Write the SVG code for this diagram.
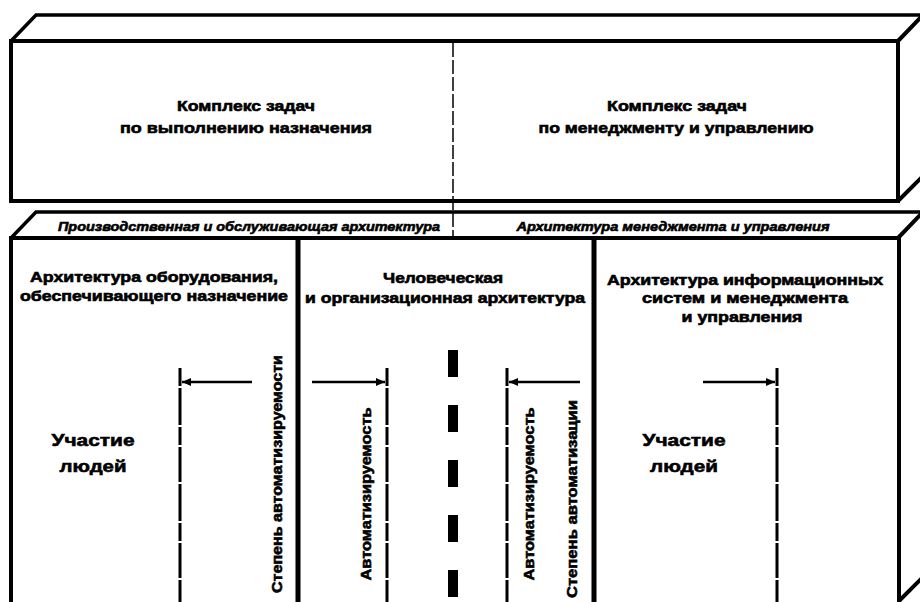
<svg xmlns="http://www.w3.org/2000/svg" width="920" height="602" viewBox="0 0 920 602">
<defs>
<style>
.t{font-family:"Liberation Sans",Arial,sans-serif;font-weight:bold;fill:#000;stroke:#000;stroke-width:0.6;}
.c{text-anchor:middle;}
.it{font-style:italic;}
.thick{fill:none;stroke:#000;stroke-width:4;stroke-linejoin:miter;}
.med{fill:none;stroke:#000;stroke-width:3.5;}
.div{fill:none;stroke:#000;stroke-width:5;}
.dash{fill:none;stroke:#000;stroke-width:1.5;stroke-dasharray:14 3;}
.dim{fill:none;stroke:#000;stroke-width:3;stroke-dasharray:37 2 18 2 35 2;stroke-dashoffset:76;}
.big{fill:none;stroke:#000;stroke-width:10;stroke-dasharray:27 28;}
.arr{fill:none;stroke:#000;stroke-width:2.5;marker-end:url(#ah);}
</style>
<marker id="ah" markerUnits="userSpaceOnUse" markerWidth="10" markerHeight="8" refX="9" refY="4" orient="auto">
<path d="M0,0 L9,4 L0,8 z" fill="#000"/>
</marker>
</defs>
<rect width="920" height="602" fill="#fff"/>

<g id="top-block">
<path class="med" d="M11,41 L36,15 L922,15"/>
<path class="thick" d="M898,41 L922,16"/>
<path class="thick" d="M898,201 L922,177"/>
<rect class="thick" x="11" y="41" width="887" height="160"/>
<path class="dash" d="M453,43 V238"/>
</g>

<g id="task-mission">
<text class="t c" x="246" y="111" font-size="15" textLength="138" lengthAdjust="spacingAndGlyphs">Комплекс задач</text>
<text class="t c" x="246" y="133" font-size="15" textLength="252" lengthAdjust="spacingAndGlyphs">по выполнению назначения</text>
</g>

<g id="task-mgmt">
<text class="t c" x="677" y="111" font-size="15" textLength="140" lengthAdjust="spacingAndGlyphs">Комплекс задач</text>
<text class="t c" x="676" y="133" font-size="15" textLength="275" lengthAdjust="spacingAndGlyphs">по менеджменту и управлению</text>
</g>

<g id="band">
<path class="med" d="M11,238 L36,212 L922,212"/>
<path class="thick" d="M898,238 L922,213"/>
<text class="t c it" x="249" y="231" font-size="13" textLength="382" lengthAdjust="spacingAndGlyphs">Производственная и обслуживающая архитектура</text>
<text class="t c it" x="673" y="231" font-size="13" textLength="313" lengthAdjust="spacingAndGlyphs">Архитектура менеджмента и управления</text>
</g>

<g id="lower-block">
<path class="thick" d="M11,604 V238 H899 V604"/>
<path class="thick" d="M899,601 L922,578"/>
<path class="div" d="M298,238 V604"/>
<path class="div" d="M594,238 V604"/>
</g>

<g id="equipment-arch">
<text class="t c" x="154" y="282" font-size="14" textLength="248" lengthAdjust="spacingAndGlyphs">Архитектура оборудования,</text>
<text class="t c" x="154" y="301" font-size="14" textLength="268" lengthAdjust="spacingAndGlyphs">обеспечивающего назначение</text>
<text class="t c" x="93" y="446" font-size="17" textLength="83" lengthAdjust="spacingAndGlyphs">Участие</text>
<text class="t c" x="93" y="472" font-size="17" textLength="67" lengthAdjust="spacingAndGlyphs">людей</text>
<text class="t c" transform="translate(282,474) rotate(-90)" font-size="15" textLength="238" lengthAdjust="spacingAndGlyphs">Степень автоматизируемости</text>
</g>

<g id="human-org-arch">
<text class="t c" x="443" y="283" font-size="14" textLength="120" lengthAdjust="spacingAndGlyphs">Человеческая</text>
<text class="t c" x="445" y="303" font-size="14" textLength="280" lengthAdjust="spacingAndGlyphs">и организационная архитектура</text>
<text class="t c" transform="translate(371,494) rotate(-90)" font-size="15" textLength="173" lengthAdjust="spacingAndGlyphs">Автоматизируемость</text>
<text class="t c" transform="translate(534,494) rotate(-90)" font-size="15" textLength="173" lengthAdjust="spacingAndGlyphs">Автоматизируемость</text>
<text class="t c" transform="translate(577,499) rotate(-90)" font-size="15" textLength="198" lengthAdjust="spacingAndGlyphs">Степень автоматизации</text>
</g>

<g id="info-arch">
<text class="t c" x="745" y="285" font-size="14" textLength="276" lengthAdjust="spacingAndGlyphs">Архитектура информационных</text>
<text class="t c" x="745" y="303" font-size="14" textLength="206" lengthAdjust="spacingAndGlyphs">систем и менеджмента</text>
<text class="t c" x="742" y="322" font-size="14" textLength="121" lengthAdjust="spacingAndGlyphs">и управления</text>
<text class="t c" x="684" y="446" font-size="17" textLength="83" lengthAdjust="spacingAndGlyphs">Участие</text>
<text class="t c" x="684" y="472" font-size="17" textLength="68" lengthAdjust="spacingAndGlyphs">людей</text>
</g>

<g id="connectors">
<path class="dim" d="M180,368 V604"/>
<path class="dim" d="M387,368 V604"/>
<path class="dim" d="M507,368 V604"/>
<path class="dim" d="M777,368 V604"/>
<path class="big" d="M453,350 V604"/>
<path class="arr" d="M252,382 H182"/>
<path class="arr" d="M312,382 H385"/>
<path class="arr" d="M580,382 H509"/>
<path class="arr" d="M703,382 H775"/>
</g>
</svg>
